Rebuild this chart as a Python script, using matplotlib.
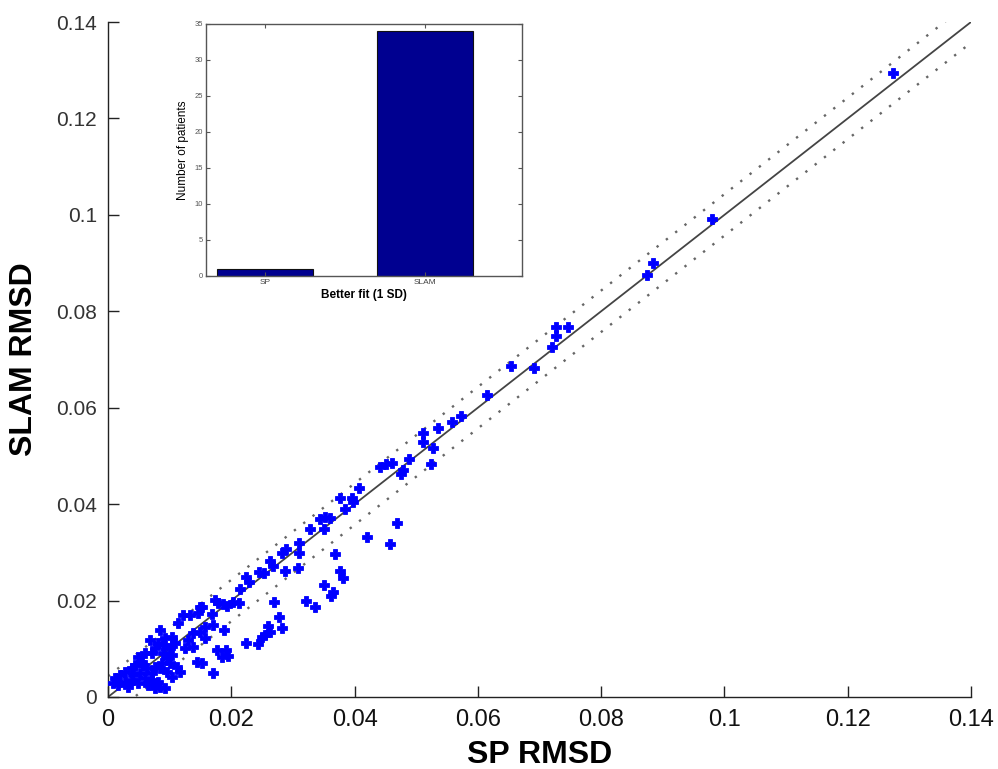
import matplotlib
matplotlib.use("Agg")
import matplotlib.pyplot as plt
import numpy as np

# ---------------- data ----------------
sp_rmsd = [0.1274, 0.0980, 0.0884, 0.0874, 0.0727, 0.0746, 0.0727, 0.0720, 0.0654, 0.0691,
           0.0615, 0.0573, 0.0558, 0.0535, 0.0511, 0.0511, 0.0527, 0.0488, 0.0524, 0.0479,
           0.0475, 0.0461, 0.0451, 0.0441, 0.0469, 0.0457, 0.0407, 0.0376, 0.0396, 0.0397,
           0.0384, 0.0360, 0.0420, 0.0368, 0.0352, 0.0344, 0.0328, 0.0350, 0.0310, 0.0289,
           0.0282, 0.0310, 0.0263, 0.0268, 0.0287, 0.0308, 0.0376, 0.0381, 0.0350, 0.0365,
           0.0362, 0.0245, 0.0253, 0.0224, 0.0229, 0.0214, 0.0321, 0.0336, 0.0269, 0.0277,
           0.0282, 0.0260, 0.0263, 0.0255, 0.0250, 0.0224, 0.0243, 0.0203, 0.0213, 0.0178,
           0.0187, 0.0193, 0.0174, 0.0149, 0.0169, 0.0170, 0.0188, 0.0149, 0.0177, 0.0191,
           0.0185, 0.0195, 0.0170, 0.0152, 0.0122, 0.0114, 0.0133, 0.0146, 0.0152, 0.0157,
           0.0138, 0.0130, 0.0125, 0.0138, 0.0157, 0.0144, 0.0112, 0.0117, 0.0081, 0.0089,
           0.0076, 0.0071, 0.0060, 0.0049, 0.0055, 0.0044, 0.0039, 0.0028, 0.0019, 0.0011,
           0.0008, 0.0016, 0.0028, 0.0039, 0.0032, 0.0049, 0.0060, 0.0071, 0.0065, 0.0076,
           0.0084, 0.0092, 0.0081, 0.0076, 0.0088, 0.0096, 0.0104, 0.0089, 0.0101, 0.0109,
           0.0092, 0.0104, 0.0084, 0.0063, 0.0052, 0.0041, 0.0071, 0.0096, 0.0104, 0.0101,
           0.0057, 0.0084, 0.0068]
slam_rmsd = [0.1294, 0.0991, 0.0900, 0.0875, 0.0767, 0.0767, 0.0749, 0.0726, 0.0687, 0.0682,
             0.0626, 0.0583, 0.0570, 0.0558, 0.0548, 0.0529, 0.0516, 0.0494, 0.0483, 0.0471,
             0.0463, 0.0485, 0.0483, 0.0477, 0.0361, 0.0317, 0.0433, 0.0413, 0.0413, 0.0404,
             0.0390, 0.0371, 0.0332, 0.0297, 0.0373, 0.0369, 0.0348, 0.0348, 0.0319, 0.0307,
             0.0299, 0.0299, 0.0282, 0.0272, 0.0261, 0.0268, 0.0261, 0.0247, 0.0232, 0.0218,
             0.0209, 0.0259, 0.0257, 0.0249, 0.0239, 0.0224, 0.0199, 0.0187, 0.0197, 0.0166,
             0.0143, 0.0147, 0.0135, 0.0129, 0.0124, 0.0112, 0.0110, 0.0197, 0.0195, 0.0195,
             0.0193, 0.0189, 0.0201, 0.0187, 0.0172, 0.0149, 0.0139, 0.0135, 0.0097, 0.0097,
             0.0083, 0.0085, 0.0050, 0.0071, 0.0170, 0.0153, 0.0170, 0.0174, 0.0187, 0.0145,
             0.0133, 0.0118, 0.0102, 0.0104, 0.0122, 0.0073, 0.0062, 0.0052, 0.0112, 0.0108,
             0.0102, 0.0091, 0.0091, 0.0083, 0.0073, 0.0066, 0.0060, 0.0052, 0.0046, 0.0039,
             0.0029, 0.0025, 0.0031, 0.0035, 0.0021, 0.0029, 0.0039, 0.0050, 0.0025, 0.0019,
             0.0021, 0.0019, 0.0031, 0.0062, 0.0071, 0.0081, 0.0087, 0.0091, 0.0102, 0.0112,
             0.0122, 0.0124, 0.0060, 0.0060, 0.0050, 0.0046, 0.0035, 0.0052, 0.0041, 0.0071,
             0.0066, 0.0139, 0.0118]

line_x = [0.0, 0.14]          # identity line extent
sd_offset = 0.0043            # 1 SD band

x_ticks = [0, 0.02, 0.04, 0.06, 0.08, 0.10, 0.12, 0.14]
tick_labels = ["0", "0.02", "0.04", "0.06", "0.08", "0.1", "0.12", "0.14"]

inset_categories = ["SP", "SLAM"]
inset_counts = [1, 34]
inset_yticks = [0, 5, 10, 15, 20, 25, 30, 35]

# ---------------- figure ----------------
W, H = 998, 769
fig = plt.figure(figsize=(W / 100, H / 100), dpi=100)
ax = fig.add_axes([108 / W, (H - 697) / H, 863 / W, 675 / H])

lx = np.array(line_x)
ax.plot(lx, lx, color="#444444", lw=1.3, zorder=2)
dot = (0, (1, 4))
ax.plot(lx, lx + sd_offset, color="#666666", lw=1.7, linestyle=dot, zorder=2)
ax.plot(lx, lx - sd_offset, color="#666666", lw=1.7, linestyle=dot, zorder=2)

ax.plot(sp_rmsd, slam_rmsd, linestyle="none", marker="P", markersize=6.5,
        color="#0000ff", markeredgecolor="#0000ff", markeredgewidth=0.6, zorder=3)

ax.set_xlim(0, 0.14)
ax.set_ylim(0, 0.14)
ax.set_xticks(x_ticks)
ax.set_xticklabels(tick_labels)
ax.set_yticks(x_ticks)
ax.set_yticklabels(tick_labels)
for s in ["top", "right"]:
    ax.spines[s].set_visible(False)
for s in ["left", "bottom"]:
    ax.spines[s].set_color("#222222")
    ax.spines[s].set_linewidth(1.0)
ax.tick_params(direction="in", length=8, width=1, color="#222222")
ax.tick_params(axis="x", pad=9)
ax.tick_params(axis="y", pad=8)

regular = ["Liberation Sans", "DejaVu Sans"]
for lab in ax.get_xticklabels():
    lab.set_fontfamily(regular)
    lab.set_fontsize(17)
    lab.set_color("#111111")
for lab in ax.get_yticklabels():
    lab.set_fontfamily(regular)
    lab.set_fontsize(15)
    lab.set_color("#333333")

ax.set_xlabel("SP RMSD", fontfamily=regular, fontsize=23, fontweight="bold", labelpad=6)
ax.set_ylabel("SLAM RMSD", fontfamily=regular, fontsize=23, fontweight="bold", labelpad=12)

# ---------------- inset ----------------
ia = fig.add_axes([206 / W, (H - 276) / H, 316 / W, 252 / H])
pos = np.arange(1, len(inset_categories) + 1)
ia.bar(pos, inset_counts, width=0.6, color="#000090", edgecolor="#111111", linewidth=0.8)
ia.set_xlim(0.63, 2.61)
ia.set_ylim(0, 35)
ia.set_xticks(pos)
ia.set_xticklabels(inset_categories, fontfamily=regular, fontsize=6, color="#444444")
ia.set_yticks(inset_yticks)
ia.set_yticklabels([str(v) for v in inset_yticks], fontfamily=regular, fontsize=5.5, color="#555555")
ia.tick_params(direction="in", length=3, width=0.8, color="#555555", top=True, right=True, pad=2)
for s in ia.spines.values():
    s.set_color("#555555")
    s.set_linewidth(1.0)
ia.set_ylabel("Number of patients", fontfamily=regular, fontsize=8.5, labelpad=4)
ia.set_xlabel("Better fit (1 SD)", fontfamily=regular, fontsize=8.5, fontweight="bold", labelpad=2)

fig.savefig("out.png", dpi=100)
